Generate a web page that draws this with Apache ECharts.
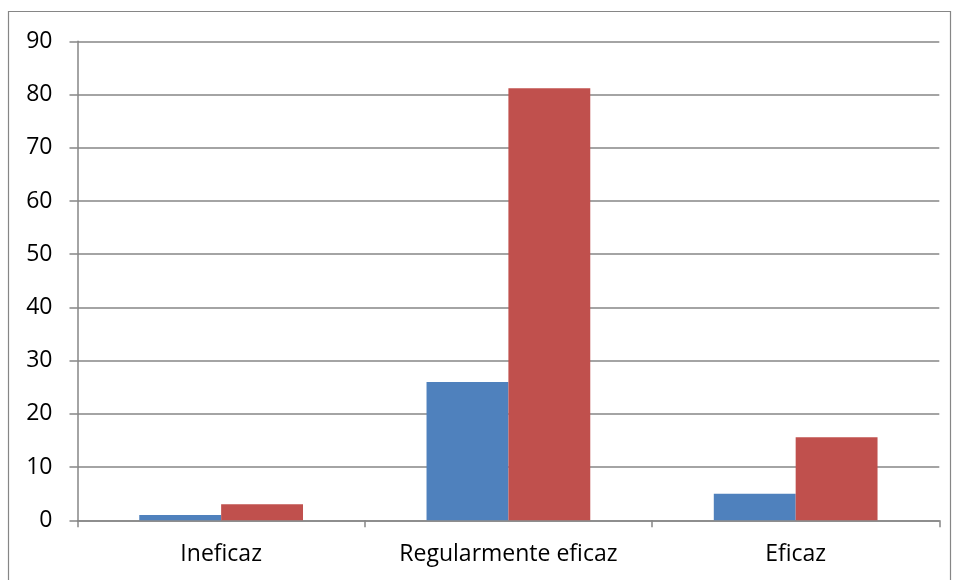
<!DOCTYPE html>
<html>
<head>
<meta charset="utf-8">
<script src="https://cdn.jsdelivr.net/npm/echarts@6/dist/echarts.min.js"></script>
<style>
  html, body { margin: 0; padding: 0; background: #fff; }
  #chart { width: 955px; height: 580px; }
</style>
</head>
<body>
<div id="chart"></div>
<script>
// Categories and values for the two series
const categories = ['Ineficaz', 'Regularmente eficaz', 'Eficaz'];
const seriesA = [1, 26, 5];
const seriesB = [3, 81.2, 15.6];
const yTicks = { min: 0, max: 90, interval: 10 };

const axisGray = '#868686';
const font = '"Open Sans", "Liberation Sans", sans-serif';

const chart = echarts.init(document.getElementById('chart'));
chart.setOption({
  animation: false,
  backgroundColor: '#ffffff',
  graphic: [{
    type: 'rect',
    shape: { x: 8.5, y: 11.5, width: 942, height: 600 },
    style: { fill: 'none', stroke: axisGray, lineWidth: 1.2 },
    silent: true
  }],
  grid: { left: 77.5, right: 15.7, top: 41.3, bottom: 59.7 },
  xAxis: {
    type: 'category',
    data: categories,
    axisLine: { lineStyle: { color: axisGray, width: 1.5 } },
    axisTick: { show: true, length: 7, lineStyle: { color: axisGray, width: 1.5 } },
    axisLabel: { color: '#000', fontSize: 23, fontFamily: font, margin: 23 }
  },
  yAxis: {
    type: 'value',
    min: yTicks.min, max: yTicks.max, interval: yTicks.interval,
    axisLine: { show: true, lineStyle: { color: axisGray, width: 1.5 } },
    axisTick: { show: true, length: 8, lineStyle: { color: axisGray, width: 1.5 } },
    splitLine: { lineStyle: { color: axisGray, width: 1.5 } },
    axisLabel: { color: '#000', fontSize: 23, fontFamily: font, margin: 25 }
  },
  series: [
    { type: 'bar', data: seriesA, barGap: '0%', barCategoryGap: '43%',
      itemStyle: { color: '#4F81BD' } },
    { type: 'bar', data: seriesB, barGap: '0%', barCategoryGap: '43%',
      itemStyle: { color: '#C0504D' } }
  ]
});
</script>
</body>
</html>
